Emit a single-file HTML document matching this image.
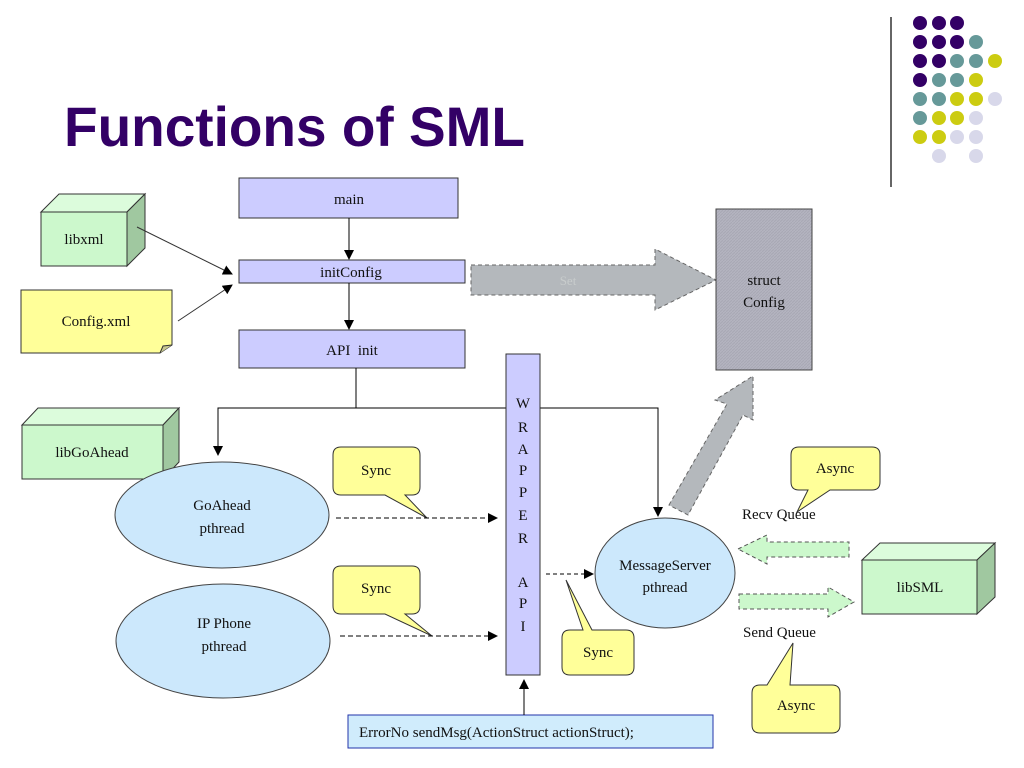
<!DOCTYPE html>
<html><head><meta charset="utf-8"><style>
html,body{margin:0;padding:0;background:#fff;}
svg{display:block}
text{font-family:"Liberation Serif",serif;font-size:15px;fill:#111;}
</style></head><body>
<svg width="1024" height="768" viewBox="0 0 1024 768" xmlns="http://www.w3.org/2000/svg">
<defs>
<marker id="ah" markerWidth="10" markerHeight="10" refX="9" refY="5" orient="auto" markerUnits="userSpaceOnUse">
<path d="M0,0 L10,5 L0,10 z" fill="#000"/></marker>
<pattern id="hatch" width="3" height="3" patternUnits="userSpaceOnUse"><rect width="3" height="3" fill="#b4b4c0"/><path d="M0,3 L3,0" stroke="#a8a8b4" stroke-width="1"/></pattern>
</defs>

<!-- title -->
<text x="64" y="146" textLength="461" lengthAdjust="spacingAndGlyphs" style="font-family:'Liberation Sans',sans-serif;font-weight:bold;font-size:56px;fill:#330066">Functions of SML</text>

<!-- decoration -->
<line x1="891" y1="17" x2="891" y2="187" stroke="#333" stroke-width="1.5"/>
<g>
<circle cx="920" cy="23" r="7" fill="#330066"/><circle cx="939" cy="23" r="7" fill="#330066"/><circle cx="957" cy="23" r="7" fill="#330066"/>
<circle cx="920" cy="42" r="7" fill="#330066"/><circle cx="939" cy="42" r="7" fill="#330066"/><circle cx="957" cy="42" r="7" fill="#330066"/><circle cx="976" cy="42" r="7" fill="#669999"/>
<circle cx="920" cy="61" r="7" fill="#330066"/><circle cx="939" cy="61" r="7" fill="#330066"/><circle cx="957" cy="61" r="7" fill="#669999"/><circle cx="976" cy="61" r="7" fill="#669999"/><circle cx="995" cy="61" r="7" fill="#cccc11"/>
<circle cx="920" cy="80" r="7" fill="#330066"/><circle cx="939" cy="80" r="7" fill="#669999"/><circle cx="957" cy="80" r="7" fill="#669999"/><circle cx="976" cy="80" r="7" fill="#cccc11"/>
<circle cx="920" cy="99" r="7" fill="#669999"/><circle cx="939" cy="99" r="7" fill="#669999"/><circle cx="957" cy="99" r="7" fill="#cccc11"/><circle cx="976" cy="99" r="7" fill="#cccc11"/><circle cx="995" cy="99" r="7" fill="#d8d8ea"/>
<circle cx="920" cy="118" r="7" fill="#669999"/><circle cx="939" cy="118" r="7" fill="#cccc11"/><circle cx="957" cy="118" r="7" fill="#cccc11"/><circle cx="976" cy="118" r="7" fill="#d8d8ea"/>
<circle cx="920" cy="137" r="7" fill="#cccc11"/><circle cx="939" cy="137" r="7" fill="#cccc11"/><circle cx="957" cy="137" r="7" fill="#d8d8ea"/><circle cx="976" cy="137" r="7" fill="#d8d8ea"/>
<circle cx="939" cy="156" r="7" fill="#d8d8ea"/><circle cx="976" cy="156" r="7" fill="#d8d8ea"/>
</g>

<!-- libxml cube -->
<polygon points="41,212 59,194 145,194 127,212" fill="#dcfcdc" stroke="#333"/>
<polygon points="127,212 145,194 145,248 127,266" fill="#a0c8a0" stroke="#333"/>
<rect x="41" y="212" width="86" height="54" fill="#ccf8cc" stroke="#333"/>
<text x="84" y="244" text-anchor="middle">libxml</text>

<!-- Config.xml note -->
<path d="M21,290 H172 V345 L160,353 H21 Z" fill="#ffff99" stroke="#333"/>
<path d="M160,353 L163,346 L172,345" fill="#c8c890" stroke="#333"/>
<text x="96" y="326" text-anchor="middle">Config.xml</text>

<line x1="137" y1="227" x2="232" y2="274" stroke="#333" marker-end="url(#ah)"/>
<line x1="178" y1="321" x2="232" y2="285" stroke="#333" marker-end="url(#ah)"/>

<!-- main / initConfig / API init -->
<rect x="239" y="178" width="219" height="40" fill="#ccccff" stroke="#333"/>
<text x="349" y="204" text-anchor="middle">main</text>
<line x1="349" y1="218" x2="349" y2="259" stroke="#000" marker-end="url(#ah)"/>
<rect x="239" y="260" width="226" height="23" fill="#ccccff" stroke="#333"/>
<text x="351" y="277" text-anchor="middle">initConfig</text>
<line x1="349" y1="283" x2="349" y2="329" stroke="#000" marker-end="url(#ah)"/>
<rect x="239" y="330" width="226" height="38" fill="#ccccff" stroke="#333"/>
<text x="352" y="355" text-anchor="middle">API&#160; init</text>

<!-- Set arrow -->
<polygon points="471,265 655,265 655,249 716,280 655,310 655,295 471,295" fill="#b4b8bc" stroke="#666" stroke-dasharray="4,3"/>
<text x="568" y="285" text-anchor="middle" style="fill:#c8cccc;font-size:13px">Set</text>

<!-- struct Config -->
<rect x="716" y="209" width="96" height="161" fill="url(#hatch)" stroke="#444"/>
<text x="764" y="285" text-anchor="middle">struct</text>
<text x="764" y="307" text-anchor="middle">Config</text>

<!-- Get diagonal arrow -->
<polygon points="669,505 727,404 715,400 753,376 753,420 743,415 688,515" fill="#b4b8bc" stroke="#666" stroke-dasharray="4,3"/>

<!-- API init connectors -->
<polyline points="356,368 356,408 218,408 218,455" fill="none" stroke="#000" marker-end="url(#ah)"/>
<polyline points="356,408 658,408 658,516" fill="none" stroke="#000" marker-end="url(#ah)"/>

<!-- WRAPPER API bar -->
<rect x="506" y="354" width="34" height="321" fill="#ccccff" stroke="#333"/>
<g text-anchor="middle" style="font-size:15px">
<text x="523" y="408">W</text><text x="523" y="432">R</text><text x="523" y="454">A</text><text x="523" y="475">P</text><text x="523" y="497">P</text><text x="523" y="520">E</text><text x="523" y="543">R</text><text x="523" y="587">A</text><text x="523" y="608">P</text><text x="523" y="631">I</text>
</g>

<!-- libGoAhead cube -->
<polygon points="22,425 38,408 179,408 163,425" fill="#dcfcdc" stroke="#333"/>
<polygon points="163,425 179,408 179,462 163,479" fill="#a0c8a0" stroke="#333"/>
<rect x="22" y="425" width="141" height="54" fill="#ccf8cc" stroke="#333"/>
<text x="92" y="457" text-anchor="middle">libGoAhead</text>

<!-- ellipses -->
<ellipse cx="222" cy="515" rx="107" ry="53" fill="#cce8fc" stroke="#444"/>
<text x="222" y="510" text-anchor="middle">GoAhead</text>
<text x="222" y="533" text-anchor="middle">pthread</text>
<ellipse cx="223" cy="641" rx="107" ry="57" fill="#cce8fc" stroke="#444"/>
<text x="224" y="628" text-anchor="middle">IP Phone</text>
<text x="224" y="651" text-anchor="middle">pthread</text>
<ellipse cx="665" cy="573" rx="70" ry="55" fill="#cce8fc" stroke="#444"/>
<text x="665" y="570" text-anchor="middle">MessageServer</text>
<text x="665" y="592" text-anchor="middle">pthread</text>

<!-- Sync bubbles -->
<path d="M341,447 H412 Q420,447 420,455 V487 Q420,495 412,495 H405 L427,518 L385,495 H341 Q333,495 333,487 V455 Q333,447 341,447 Z" fill="#ffff99" stroke="#333"/>
<text x="376" y="475" text-anchor="middle">Sync</text>
<line x1="336" y1="518" x2="497" y2="518" stroke="#000" stroke-dasharray="5,3" marker-end="url(#ah)"/>
<path d="M341,566 H412 Q420,566 420,574 V606 Q420,614 412,614 H405 L432,636 L385,614 H341 Q333,614 333,606 V574 Q333,566 341,566 Z" fill="#ffff99" stroke="#333"/>
<text x="376" y="593" text-anchor="middle">Sync</text>
<line x1="340" y1="636" x2="497" y2="636" stroke="#000" stroke-dasharray="5,3" marker-end="url(#ah)"/>
<path d="M570,630 H583 L566,580 L592,630 H626 Q634,630 634,638 V667 Q634,675 626,675 H570 Q562,675 562,667 V638 Q562,630 570,630 Z" fill="#ffff99" stroke="#333"/>
<text x="598" y="657" text-anchor="middle">Sync</text>
<line x1="546" y1="574" x2="593" y2="574" stroke="#000" stroke-dasharray="4,3" marker-end="url(#ah)"/>

<!-- queues -->
<polygon points="738,549 767,535 767,542 849,542 849,557 767,557 767,564" fill="#ccf8cc" stroke="#555" stroke-dasharray="4,3"/>
<polygon points="739,594 828,594 828,587 854,602 828,617 828,609 739,609" fill="#ccf8cc" stroke="#555" stroke-dasharray="4,3"/>
<text x="742" y="519">Recv Queue</text>
<text x="743" y="637">Send Queue</text>

<path d="M799,447 H872 Q880,447 880,455 V482 Q880,490 872,490 H830 L797,512 L808,490 H799 Q791,490 791,482 V455 Q791,447 799,447 Z" fill="#ffff99" stroke="#333"/>
<text x="835" y="473" text-anchor="middle">Async</text>
<path d="M760,685 H767 L793,643 L790,685 H832 Q840,685 840,693 V725 Q840,733 832,733 H760 Q752,733 752,725 V693 Q752,685 760,685 Z" fill="#ffff99" stroke="#333"/>
<text x="796" y="710" text-anchor="middle">Async</text>

<!-- libSML cube -->
<polygon points="862,560 880,543 995,543 977,560" fill="#dcfcdc" stroke="#333"/>
<polygon points="977,560 995,543 995,597 977,614" fill="#a0c8a0" stroke="#333"/>
<rect x="862" y="560" width="115" height="54" fill="#ccf8cc" stroke="#333"/>
<text x="920" y="592" text-anchor="middle">libSML</text>

<!-- ErrorNo box -->
<rect x="348" y="715" width="365" height="33" fill="#d0ecfc" stroke="#2233aa"/>
<text x="359" y="737" style="font-size:15px">ErrorNo sendMsg(ActionStruct actionStruct);</text>
<line x1="524" y1="715" x2="524" y2="680" stroke="#000" marker-end="url(#ah)"/>
</svg>
</body></html>
